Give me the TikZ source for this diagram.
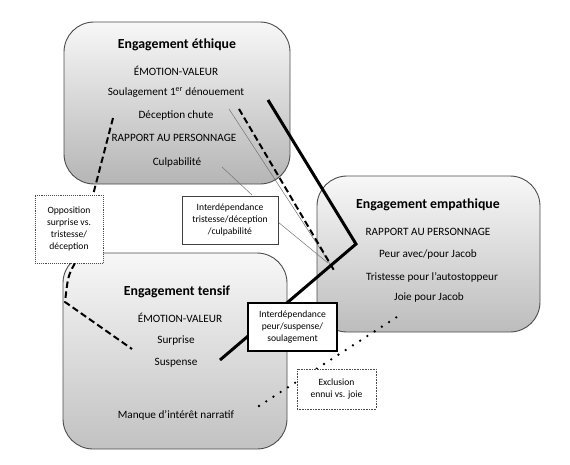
\documentclass[tikz,border=0pt]{standalone}
\usepackage{fontspec}
\setmainfont{Carlito}
\begin{document}
\begin{tikzpicture}[x=1pt,y=-1pt,
  bigbox/.style={draw=black!70, line width=0.9pt, rounded corners=30pt,
    top color=black!3, bottom color=black!26, inner sep=0pt},
  ttl/.style={font=\fontsize{13.8}{16}\selectfont\bfseries},
  txt/.style={font=\fontsize{11.2}{13}\selectfont},
  lbl/.style={font=\fontsize{9.6}{11.8}\selectfont, align=center, fill=white, inner sep=0pt},
  thickdash/.style={line width=2pt, dash pattern=on 6.5pt off 3.5pt},
  heavy/.style={line width=3pt},
  thinline/.style={draw=black!55, line width=0.5pt},
  dotline/.style={line width=2.6pt, line cap=round, dash pattern=on 0pt off 8.6pt}
]
\useasboundingbox (0,0) rectangle (570,464);

% big boxes
\node[bigbox, bottom color=black!29, minimum width=226pt, minimum height=162pt] (eth) at (177,103) {};
\node[bigbox, minimum width=223pt, minimum height=156pt] (emp) at (428.5,254) {};
\node[bigbox, bottom color=black!24, minimum width=224pt, minimum height=196pt] (ten) at (175,351) {};

% texts ethique
\node[ttl] (e0) at (177,45) {Engagement éthique};
\node[txt] (e1) at (176,71) {ÉMOTION-VALEUR};
\node[txt] (e2) at (176,93) {Soulagement 1\textsuperscript{er} dénouement};
\node[txt] (e3) at (176,116) {Déception chute};
\node[txt] (e4) at (174,138) {RAPPORT AU PERSONNAGE};
\node[txt] (e5) at (177,163) {Culpabilité};

% texts empathique
\node[ttl] (p0) at (428,205) {Engagement empathique};
\node[txt] (p1) at (428,232) {RAPPORT AU PERSONNAGE};
\node[txt] (p2) at (428,255) {Peur avec/pour Jacob};
\node[txt] (p3) at (432,277) {Tristesse pour l’autostoppeur};
\node[txt] (p4) at (429,298) {Joie pour Jacob};

% texts tensif
\node[ttl] (t0) at (177,292) {Engagement tensif};
\node[txt] (t1) at (180,318) {ÉMOTION-VALEUR};
\node[txt] (t2) at (176,341) {Surprise};
\node[txt] (t3) at (176,363) {Suspense};
\node[txt] (t4) at (176,415) {Manque d’intérêt narratif};

% connector end points
\coordinate (dA) at (113,118);
\coordinate (dB) at (93,195);
\coordinate (dC) at (75,263);
\coordinate (dD) at (65,302);
\coordinate (dE) at (132,349);
\coordinate (sA) at (239,109);
\coordinate (sB) at (335,272);
\coordinate (gA) at (229,109);
\coordinate (gB) at (332,267);
\coordinate (cA) at (222,167);
\coordinate (cB) at (252,195);
\coordinate (cC) at (278,222);
\coordinate (cD) at (328,263);
\coordinate (hA) at (268,100);
\coordinate (hB) at (356,244);
\coordinate (hC) at (220,360);
\coordinate (oA) at (259,406);
\coordinate (oB) at (403,313);

% connectors
\draw[thickdash] (dA) -- (dB);
\draw[thickdash] (dC) .. controls (68,276) .. (dD) -- (dE);
\draw[thinline] (gA) -- (gB);
\draw[thickdash] (sA) -- (sB);
\draw[thinline] (cA) -- (cB);
\draw[thinline] (cC) -- (cD);
\draw[heavy] (hA) -- (hB) -- (hC);
\draw[dotline] (oA) -- (oB);

% small boxes
\node[lbl, draw=black!70, line width=0.9pt, densely dotted, minimum width=68pt, minimum height=68pt] (opp) at (69,229)
  {Opposition\\surprise vs.\\tristesse/\\déception};
\node[lbl, draw=black!75, line width=0.6pt, minimum width=96pt, minimum height=48pt] (tri) at (230,220)
  {Interdépendance\\tristesse/déception\\/culpabilité};
\node[lbl, draw=black, line width=2pt, minimum width=89pt, minimum height=48pt] (peur) at (292.5,327)
  {Interdépendance\\peur/suspense/\\soulagement};
\node[lbl, draw=black!70, line width=0.6pt, densely dotted, minimum width=79pt, minimum height=40pt] (excl) at (336.5,389)
  {Exclusion\\ennui vs. joie};
\end{tikzpicture}
\end{document}
